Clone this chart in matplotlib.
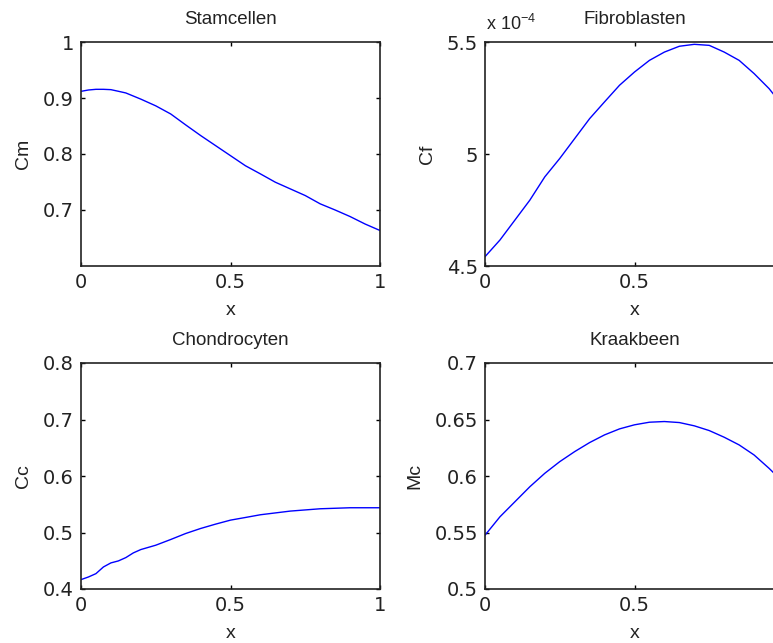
import numpy as np
import matplotlib
matplotlib.use("Agg")
import matplotlib.pyplot as plt
from matplotlib.ticker import FuncFormatter

# ---- data ----
x_cm = [0.0, 0.025, 0.05, 0.075, 0.1, 0.125, 0.15, 0.2, 0.25, 0.3, 0.35, 0.4, 0.45,
        0.5, 0.55, 0.6, 0.65, 0.7, 0.75, 0.8, 0.85, 0.9, 0.95, 1.0]
cm = [0.9119, 0.9143, 0.9155, 0.9155, 0.9149, 0.912, 0.909, 0.898, 0.886, 0.8715,
      0.852, 0.833, 0.815, 0.797, 0.779, 0.7645, 0.7496, 0.7377, 0.7258, 0.711,
      0.700, 0.6883, 0.675, 0.6634]

x_cf = [0.0, 0.05, 0.1, 0.15, 0.2, 0.25, 0.3, 0.35, 0.4, 0.45, 0.5, 0.55, 0.6, 0.65,
        0.7, 0.75, 0.8, 0.85, 0.9, 0.95, 0.99, 1.0]
cf = [4.5416e-4, 4.616e-4, 4.705e-4, 4.794e-4, 4.898e-4, 4.980e-4, 5.069e-4, 5.158e-4,
      5.233e-4, 5.307e-4, 5.366e-4, 5.418e-4, 5.455e-4, 5.481e-4, 5.4896e-4, 5.485e-4,
      5.455e-4, 5.418e-4, 5.359e-4, 5.292e-4, 5.225e-4, 5.20e-4]

x_cc = [0.0, 0.025, 0.05, 0.075, 0.1, 0.125, 0.15, 0.175, 0.2, 0.25, 0.3, 0.35, 0.4,
        0.45, 0.5, 0.55, 0.6, 0.7, 0.8, 0.9, 1.0]
cc = [0.4166, 0.4213, 0.4272, 0.439, 0.4462, 0.4497, 0.4556, 0.4639, 0.4698, 0.4775,
      0.4876, 0.4982, 0.5071, 0.5148, 0.5219, 0.5266, 0.5314, 0.5379, 0.542, 0.5438,
      0.5438]

x_mc = [0.0, 0.05, 0.1, 0.15, 0.2, 0.25, 0.3, 0.35, 0.4, 0.45, 0.5, 0.55, 0.6, 0.65,
        0.7, 0.75, 0.8, 0.85, 0.9, 0.95, 0.99, 1.0]
mc = [0.5476, 0.5639, 0.5772, 0.5905, 0.6024, 0.6127, 0.6216, 0.6296, 0.6364, 0.6417,
      0.6453, 0.6476, 0.6482, 0.6473, 0.6444, 0.6402, 0.6343, 0.6275, 0.6186, 0.6068,
      0.5964, 0.594]

titles = ["Stamcellen", "Fibroblasten", "Chondrocyten", "Kraakbeen"]
ylabels = ["Cm", "Cf", "Cc", "Mc"]
ylims = [(0.6, 1.0), (4.5e-4, 5.5e-4), (0.4, 0.8), (0.5, 0.7)]
yticks = [[0.7, 0.8, 0.9, 1.0], [4.5e-4, 5.0e-4, 5.5e-4], [0.4, 0.5, 0.6, 0.7, 0.8],
          [0.5, 0.55, 0.6, 0.65, 0.7]]
xticks = [0, 0.5, 1]

W, H = 773, 643
fig = plt.figure(figsize=(W / 100, H / 100), dpi=100)

def rect(l, t, r, b):
    return [l / W, 1 - b / H, (r - l) / W, (b - t) / H]

rects = [rect(81, 42, 380, 266), rect(485, 42, 784, 266),
         rect(81, 363, 380, 589), rect(485, 363, 784, 589)]
series = [(x_cm, cm), (x_cf, cf), (x_cc, cc), (x_mc, mc)]

lab_font = "Liberation Sans"

for i in range(4):
    ax = fig.add_axes(rects[i])
    xs, ys = series[i]
    ax.plot(xs, ys, color=(0, 0, 1), lw=1.0)
    ax.set_xlim(0, 1)
    ax.set_ylim(*ylims[i])
    ax.set_xticks(xticks)
    ax.set_yticks(yticks[i])
    ax.xaxis.set_major_formatter(FuncFormatter(lambda v, p: f"{v:g}"))
    if i == 1:
        ax.yaxis.set_major_formatter(FuncFormatter(lambda v, p: f"{v * 1e4:g}"))
        fig.text(486 / W, 1 - 30 / H, r"x 10$^{\mathregular{-4}}$", fontsize=13,
                 family=lab_font, ha="left", va="baseline", color="#222222")
    else:
        ax.yaxis.set_major_formatter(FuncFormatter(lambda v, p: f"{v:g}"))
    ax.tick_params(direction="in", length=3, width=1, top=True, right=True,
                   labelsize=14, pad=5, labelcolor="#222222")
    for lab in ax.get_xticklabels() + ax.get_yticklabels():
        lab.set_family("DejaVu Sans")
    for s in ax.spines.values():
        s.set_linewidth(1.2)
        s.set_color("#222222")
    ax.set_title(titles[i], fontsize=13.5, family=lab_font, pad=13, color="#222222")
    ax.set_xlabel("x", fontsize=14, family=lab_font, labelpad=7.5, color="#222222")
    ax.set_ylabel(ylabels[i], fontsize=14, family=lab_font, labelpad=8, color="#222222")

fig.savefig("out.png", dpi=100)
